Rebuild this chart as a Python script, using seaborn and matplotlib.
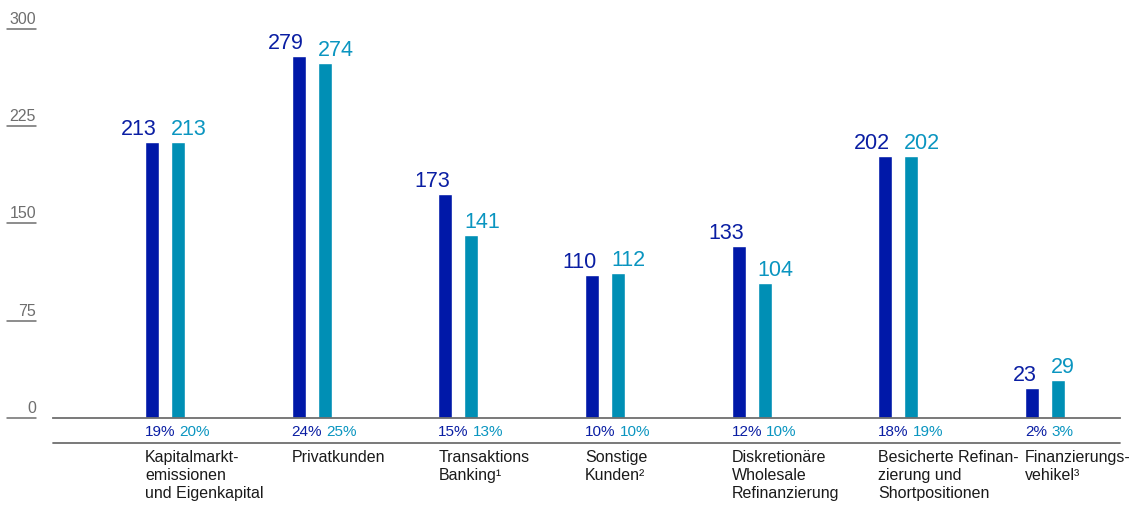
import matplotlib
matplotlib.use("Agg")
import matplotlib.pyplot as plt
from matplotlib.lines import Line2D
import seaborn as sns
import pandas as pd

categories = [
    "Kapitalmarkt-\nemissionen\nund Eigenkapital",
    "Privatkunden",
    "Transaktions\nBanking\u00b9",
    "Sonstige\nKunden\u00b2",
    "Diskretionäre\nWholesale\nRefinanzierung",
    "Besicherte Refinan-\nzierung und\nShortpositionen",
    "Finanzierungs-\nvehikel\u00b3",
]
series_names = ["A", "B"]
values_a = [213, 279, 173, 110, 133, 202, 23]
values_b = [213, 274, 141, 112, 104, 202, 29]
pct_a = ["19%", "24%", "15%", "10%", "12%", "18%", "2%"]
pct_b = ["20%", "25%", "13%", "10%", "10%", "19%", "3%"]
y_ticks = [0, 75, 150, 225, 300]

DARK = "#0018A8"
LIGHT = "#008FB5"
DARK_TXT = "#0A1EA3"
LIGHT_TXT = "#0A95C0"
GRAY = "#6E6E6E"

sns.set_theme(style="white")
plt.rcParams["font.family"] = ["Liberation Sans", "DejaVu Sans"]

df = pd.DataFrame({
    "cat": categories * 2,
    "series": [series_names[0]] * len(categories) + [series_names[1]] * len(categories),
    "val": values_a + values_b,
})

fig = plt.figure(figsize=(11.36, 5.05), dpi=100)
ax = fig.add_axes([53 / 1136, 87 / 505, 1067 / 1136, 389 / 505])

sns.barplot(data=df, x="cat", y="val", hue="series", palette=[DARK, LIGHT],
            width=0.3545, gap=0.461, dodge=True, saturation=1, legend=False,
            errorbar=None, ax=ax)

ax.set_xlim(-0.7636, 6.511)
ax.set_ylim(0, 300)
ax.set_xlabel("")
ax.set_ylabel("")
ax.set_yticks([])
for s in ["top", "right", "left"]:
    ax.spines[s].set_visible(False)
ax.spines["bottom"].set_color(GRAY)
ax.spines["bottom"].set_linewidth(1.3)

bars_a = list(ax.containers[0])
bars_b = list(ax.containers[1])

# category labels left-aligned with the dark bar
ax.set_xticks([b.get_x() for b in bars_a])
ax.set_xticklabels(categories, ha="left", va="top", fontsize=11.5,
                   color="#1a1a1a", linespacing=1.25)
ax.tick_params(axis="x", length=0, pad=23)

# value labels
for b, v in zip(bars_a, values_a):
    ax.annotate(str(v), xy=(b.get_x() + b.get_width() / 2, b.get_height()),
                xytext=(5, 2), textcoords="offset pixels", ha="right",
                va="bottom", fontsize=15.5, color=DARK_TXT)
for b, v in zip(bars_b, values_b):
    ax.annotate(str(v), xy=(b.get_x() + b.get_width() / 2, b.get_height()),
                xytext=(-7, 2), textcoords="offset pixels", ha="left",
                va="bottom", fontsize=15.5, color=LIGHT_TXT)

# percentage labels
for b, pa, pb in zip(bars_a, pct_a, pct_b):
    t1 = ax.annotate(pa, xy=(b.get_x(), 0), xytext=(0, -7),
                     textcoords="offset pixels", ha="left", va="top",
                     fontsize=11, color=DARK_TXT, annotation_clip=False)
    ax.annotate(pb, xy=(1, 0), xycoords=t1, xytext=(4, 0),
                textcoords="offset pixels", ha="left", va="bottom",
                fontsize=11, color=LIGHT_TXT, annotation_clip=False)

# separator line below percentages
ax.add_line(Line2D([0, 1], [-25 / 389, -25 / 389], transform=ax.transAxes,
                   color=GRAY, lw=1.3, clip_on=False))

# y tick labels with underlines
ytr = ax.get_yaxis_transform()
for t in y_ticks:
    ax.add_line(Line2D([-46 / 1067, -17 / 1067], [t, t], transform=ytr,
                       color=GRAY, lw=1.1, clip_on=False))
    ax.annotate(str(t), xy=(-17 / 1067, t), xycoords=ytr, xytext=(0, 2),
                textcoords="offset pixels", ha="right", va="bottom",
                fontsize=11.5, color=GRAY, annotation_clip=False)

fig.savefig("out.png", dpi=100)
